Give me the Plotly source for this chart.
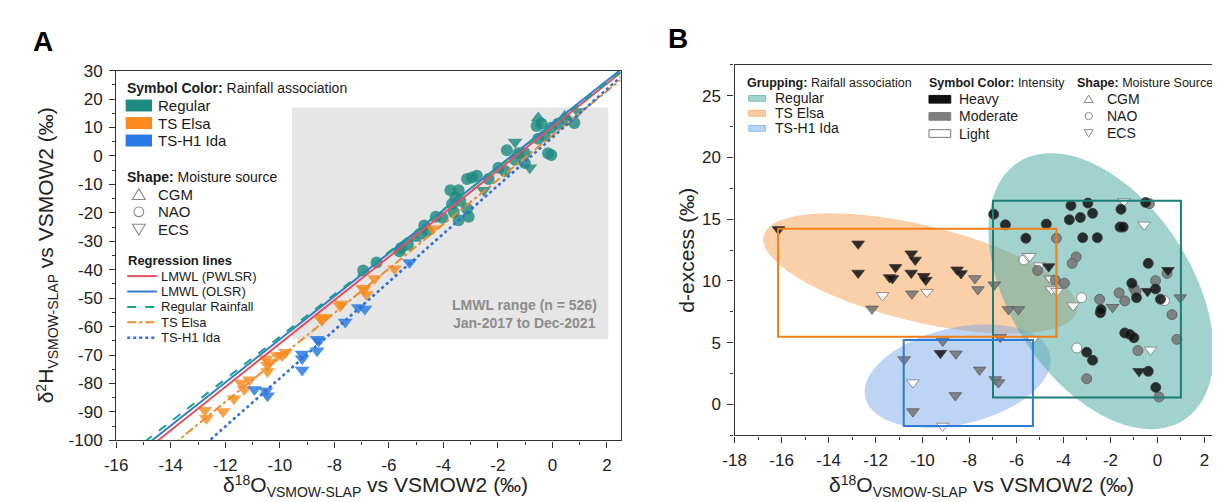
import numpy as np
import plotly.graph_objects as go

W, H = 1220, 502
FONT = "Liberation Sans, Arial, Helvetica, sans-serif"

# ---------------- Panel A data (d2H vs d18O) ----------------
A_reg_x = [-0.52, -0.58, -0.40, 0.45, 0.51, 0.93, 0.81, -0.04, 0.20, -0.28, -0.52, -0.16, -0.04,
           -1.37, -1.67, -1.25, -1.01, -1.37, -1.01, -0.83, -1.74, -1.98, -2.34, -2.52, -2.95,
           -2.77, -3.13, -3.44, -3.56, -3.74, -3.38, -3.68, -3.13, -3.07, -3.44, -4.03, -3.62,
           -4.28, -4.70, -4.58, -4.82, -5.06, -5.55, -5.61, -5.30, -6.45, -6.94]
A_reg_y = [13.3, 10.5, 11.3, 13.9, 12.7, 15.6, 11.6, 9.9, 11.3, 7.1, 6.0, 0.9, 0.3,
           4.9, 2.0, 0.9, 0.9, -1.35, -2.5, -4.2, -5.3, -4.2, -8.1, -12.1, -7.6,
           -7.0, -8.1, -12.1, -14.6, -12.1, -15.8, -16.9, -18.6, -21.4, -22.6, -21.7, -19.7,
           -21.4, -24.5, -26.2, -27.4, -29.0, -32.4, -33.5, -31.2, -37.5, -40.3]
A_reg_src = ["CGM", "NAO", "NAO", "CGM", "NAO", "ECS", "NAO", "NAO", "NAO", "NAO", "NAO", "NAO", "NAO",
             "ECS", "NAO", "NAO", "NAO", "NAO", "NAO", "ECS", "NAO", "NAO", "NAO", "ECS", "NAO",
             "NAO", "NAO", "NAO", "NAO", "NAO", "NAO", "NAO", "NAO", "NAO", "NAO", "NAO", "NAO",
             "NAO", "NAO", "NAO", "NAO", "CGM", "NAO", "NAO", "NAO", "NAO", "NAO"]

A_elsa_x = [-12.75, -12.69, -12.08, -11.68, -11.42, -11.30, -11.11, -10.51, -10.45, -10.45, -10.39,
            -10.09, -9.91, -9.79, -8.51, -8.45, -8.39, -7.79, -7.73, -6.92, -6.82, -6.94, -6.52,
            -5.79, -4.39]
A_elsa_y = [-89.4, -92.2, -89.9, -85.4, -79.8, -82.1, -78.7, -71.3, -73.6, -75.8, -72.5,
            -70.2, -70.2, -69.0, -57.2, -57.8, -56.7, -52.7, -52.1, -47.0, -48.7, -46.5, -43.1,
            -39.7, -25.6]

A_ida_x = [-5.24, -6.88, -7.12, -7.60, -8.63, -8.57, -8.63, -9.18, -9.18, -9.18, -10.93, -10.51, -10.45]
A_ida_y = [-37.5, -53.8, -53.3, -58.4, -64.5, -65.1, -68.5, -69.6, -71.3, -75.3, -82.1, -82.6, -84.3]

# Regression lines: d2H = slope * d18O + intercept
REG_NAMES = ["LMWL (PWLSR)", "LMWL (OLSR)", "Regular Rainfall", "TS Elsa", "TS-H1 Ida"]
REG_SLOPE = [7.62, 7.58, 7.45, 7.81, 8.47]
REG_INTERCEPT = [10.2, 11.3, 10.9, 7.2, 6.5]
REG_COLORS = ["#e5525c", "#2f7fcf", "#1ba08e", "#f28a26", "#2f6fdc"]
REG_DASH = ["solid", "solid", "dash", "dashdot", "dot"]
REG_WIDTH = [2, 2, 2, 2, 2.6]

# LMWL range box (long-term record)
LMWL_BOX_X = [-9.55, 2.05]
LMWL_BOX_Y = [-64.5, 17.0]

A_XRANGE = [-16, 2.5]
A_YRANGE = [-100, 30]
A_XTICKS = [-16, -14, -12, -10, -8, -6, -4, -2, 0, 2]
A_XTICKTEXT = ["-16", "-14", "-12", "-10", "-8", "-6", "-4", "-2", "0", "2"]
A_YTICKS = [30, 20, 10, 0, -10, -20, -30, -40, -50, -60, -70, -80, -90, -100]
A_YTICKTEXT = ["30", "20", "10", "0", "-10", "-20", "-30", "-40", "-50", "-60", "-70", "-80", "-90", "-100"]

# ---------------- Panel B data (d-excess vs d18O) ----------------
B_x = [-16.13, -12.74, -12.74, -12.15, -11.70, -11.40, -11.15, -11.28, -10.48, -10.31, -10.48, -10.45,
       -9.95, -9.86, -9.81, -8.53, -8.36, -7.77, -7.64, -6.94, -6.34, -5.92, -6.69,
       -9.14, -9.24, -8.58, -10.78, -10.41, -7.57, -6.90, -6.77, -8.60, -10.41, -9.14, -5.31,
       -6.97, -6.47, -5.60, -4.73, -4.30, -3.68, -2.96, -3.75, -3.28, -2.76, -3.18, -2.56,
       -1.55, -1.59, -1.46, -1.42, -0.50, -0.34, -0.56, -3.46, -3.63, -5.50, -5.68, -5.43,
       -5.01, -4.63, -5.10, -4.58, -4.51, -4.52, -4.27, -4.35, -3.96, -3.23, -3.59, -2.46,
       -2.43, -2.40, -1.91, -1.63, -1.39, -1.00, -1.09, -0.92, -0.89, -0.39, -0.42, -0.08,
       0.13, 0.30, -0.08, 0.45, 0.41, 0.62, 0.97, 0.83, -3.43, -3.01, -2.76, -3.01,
       -1.39, -1.17, -1.00, -0.83, -0.78, -0.39, -0.29, -0.07, 0.07]
B_d = [14.17, 13.00, 10.64, 7.74, 8.83, 10.28, 11.10, 10.20, 12.20, 11.70, 10.64, 8.96,
       10.38, 10.07, 9.09, 10.90, 10.60, 10.20, 9.30, 9.69, 7.69, 7.69, 5.45,
       5.14, 4.15, 4.10, 3.63, 1.77, 2.80, 2.02, 1.77, 0.73, -0.57, -1.74, 5.27,
       15.40, 14.54, 13.45, 14.60, 13.45, 16.10, 16.30, 14.95, 15.13, 15.47, 13.50, 13.50,
       15.80, 14.36, 14.36, 16.43, 16.35, 16.25, 14.54, 11.94, 11.42, 12.00, 11.70, 12.00,
       11.24, 11.16, 10.85, 10.20, 9.30, 10.12, 9.16, 10.07, 9.81, 8.64, 8.00, 8.51,
       7.42, 7.68, 7.87, 9.03, 8.38, 9.42, 9.81, 9.16, 8.64, 11.42, 9.16, 9.35,
       8.52, 8.40, 10.02, 10.86, 10.60, 7.27, 8.65, 5.27, 4.57, 4.23, 3.58, 2.08,
       5.79, 5.66, 5.40, 4.36, 2.68, 2.68, 4.42, 1.38, 0.60]
B_int = ["H", "H", "H", "M", "L", "H", "H", "H", "H", "H", "H", "M",
         "H", "H", "L", "H", "H", "M", "M", "M", "M", "M", "M",
         "M", "H", "M", "M", "L", "M", "M", "M", "M", "M", "L", "L",
         "H", "H", "H", "H", "M", "H", "H", "H", "H", "H", "H", "H",
         "H", "H", "H", "L", "H", "M", "L", "M", "M", "L", "L", "L",
         "L", "H", "M", "L", "L", "L", "L", "M", "M", "L", "L", "M",
         "H", "H", "M", "M", "M", "M", "H", "M", "H", "H", "H", "H",
         "H", "L", "M", "H", "M", "M", "M", "M", "L", "H", "H", "M",
         "H", "H", "H", "M", "H", "H", "L", "H", "M"]
B_src = ["ECS"] * 35 + [
         "NAO", "NAO", "NAO", "NAO", "NAO", "NAO", "NAO", "NAO", "NAO", "NAO", "NAO", "NAO",
         "NAO", "NAO", "NAO", "ECS", "NAO", "NAO", "ECS", "NAO", "NAO", "ECS", "NAO", "ECS",
         "ECS", "ECS", "NAO", "ECS", "ECS", "ECS", "ECS", "NAO", "NAO", "NAO", "ECS", "NAO",
         "NAO", "NAO", "ECS", "NAO", "NAO", "NAO", "NAO", "NAO", "NAO", "NAO", "ECS", "NAO",
         "NAO", "NAO", "NAO", "ECS", "NAO", "NAO", "ECS", "NAO", "NAO", "NAO", "NAO", "NAO",
         "NAO", "NAO", "NAO", "NAO", "ECS", "NAO", "ECS", "NAO", "NAO"]

# Group ranges (boxes)
BOX_GROUPS = ["Regular", "TS Elsa", "TS-H1 Ida"]
BOX_X0 = [-7.0, -16.15, -10.8]
BOX_X1 = [1.0, -4.3, -5.3]
BOX_Y0 = [0.57, 5.48, -1.74]
BOX_Y1 = [16.48, 14.23, 5.22]
BOX_COLORS = ["#1c7d75", "#ef7f18", "#2d7bd6"]

# Group ellipses: centre (data), semi-axes (px), rotation (deg)
ELL_CX = [-10.1, -8.5, -2.4]
ELL_CY = [10.6, 2.3, 9.17]
ELL_A = [163, 96, 157.9]
ELL_B = [50, 50, 92.6]
ELL_TH = [-14, 13.8, 121.1]
ELL_COLORS = ["rgba(247,160,80,0.50)", "rgba(120,165,232,0.48)", "rgba(88,175,166,0.56)"]

B_XRANGE = [-18, 2.95]
B_YRANGE = [-2.5, 27.5]
B_XTICKS = [-18, -16, -14, -12, -10, -8, -6, -4, -2, 0, 2]
B_XTICKTEXT = ["-18", "-16", "-14", "-12", "-10", "-8", "-6", "-4", "-2", "0", "2"]
B_YTICKS = [0, 5, 10, 15, 20, 25]
B_YTICKTEXT = ["0", "5", "10", "15", "20", "25"]

# ---------------- layout geometry (pixels) ----------------
A_L, A_R, A_T, A_B = 97.2, 606.5, 55.7, 440.0
B_L, B_R, B_T, B_B = 721.7, 1218.7, 49.6, 434.8


def px(x):
    return x / W


def py(y):
    return 1 - y / H


SYM = {"CGM": "triangle-up", "NAO": "circle", "ECS": "triangle-down"}

fig = go.Figure()

# Panel A markers
for src in ["NAO", "CGM", "ECS"]:
    idx = [i for i, s in enumerate(A_reg_src) if s == src]
    fig.add_trace(go.Scatter(
        x=[A_reg_x[i] for i in idx], y=[A_reg_y[i] for i in idx], mode="markers",
        marker=dict(symbol=SYM[src], size=12 if src == "NAO" else 13, color="rgba(31,138,128,0.82)",
                    line=dict(width=0)),
        xaxis="x", yaxis="y", showlegend=False, hoverinfo="skip"))
fig.add_trace(go.Scatter(x=A_elsa_x, y=A_elsa_y, mode="markers",
                         marker=dict(symbol="triangle-down", size=13, color="rgba(247,140,30,0.82)", line=dict(width=0)),
                         xaxis="x", yaxis="y", showlegend=False, hoverinfo="skip"))
fig.add_trace(go.Scatter(x=A_ida_x, y=A_ida_y, mode="markers",
                         marker=dict(symbol="triangle-down", size=13, color="rgba(45,125,225,0.85)", line=dict(width=0)),
                         xaxis="x", yaxis="y", showlegend=False, hoverinfo="skip"))

# Regression lines
for name, m, c, col, dash, w in zip(REG_NAMES, REG_SLOPE, REG_INTERCEPT, REG_COLORS, REG_DASH, REG_WIDTH):
    xs = np.array(A_XRANGE, dtype=float)
    fig.add_trace(go.Scatter(x=xs, y=m * xs + c, mode="lines", name=name,
                             line=dict(color=col, width=w, dash=dash),
                             xaxis="x", yaxis="y", showlegend=False, hoverinfo="skip"))

# Panel B markers
INT_FILL = {"H": "rgba(15,15,15,0.85)", "M": "rgba(120,120,120,0.88)", "L": "rgba(255,255,255,0.95)"}
INT_LINE = {"H": "#3a3a3a", "M": "#5a5a5a", "L": "#7a7a7a"}
for inten in ["L", "M", "H"]:
    for src in ["NAO", "ECS", "CGM"]:
        idx = [i for i in range(len(B_x)) if B_int[i] == inten and B_src[i] == src]
        if not idx:
            continue
        fig.add_trace(go.Scatter(
            x=[B_x[i] for i in idx], y=[B_d[i] for i in idx], mode="markers",
            marker=dict(symbol=SYM[src], size=10 if src == "NAO" else 11, color=INT_FILL[inten],
                        line=dict(color=INT_LINE[inten], width=0.8)),
            xaxis="x2", yaxis="y2", showlegend=False, hoverinfo="skip"))

shapes = []
annotations = []

# LMWL grey box
shapes.append(dict(type="rect", xref="x", yref="y", x0=LMWL_BOX_X[0], x1=LMWL_BOX_X[1],
                   y0=LMWL_BOX_Y[0], y1=LMWL_BOX_Y[1], fillcolor="#e6e6e6", line=dict(width=0), layer="below"))

# Ellipses in panel B
wx = (B_R - B_L) / (B_XRANGE[1] - B_XRANGE[0])
wy = (B_B - B_T) / (B_YRANGE[1] - B_YRANGE[0])
t = np.linspace(0, 2 * np.pi, 160)
for cx, cy, a, b, th, col in zip(ELL_CX, ELL_CY, ELL_A, ELL_B, ELL_TH, ELL_COLORS):
    r = np.radians(th)
    dx = a * np.cos(t) * np.cos(r) - b * np.sin(t) * np.sin(r)
    dy = a * np.cos(t) * np.sin(r) + b * np.sin(t) * np.cos(r)
    xs = cx + dx / wx
    ys = cy + dy / wy
    path = "M " + " L ".join(f"{x:.4f},{y:.4f}" for x, y in zip(xs, ys)) + " Z"
    shapes.append(dict(type="path", xref="x2", yref="y2", path=path, fillcolor=col,
                       line=dict(width=0), layer="below"))

# Group boxes in panel B
for x0, x1, y0, y1, col in zip(BOX_X0, BOX_X1, BOX_Y0, BOX_Y1, BOX_COLORS):
    shapes.append(dict(type="rect", xref="x2", yref="y2", x0=x0, x1=x1, y0=y0, y1=y1,
                       fillcolor="rgba(0,0,0,0)", line=dict(color=col, width=2), layer="above"))


def text(x, y, s, size=14, color="#1a1a1a", anchor="left", angle=0, bold=False):
    if bold:
        s = f"<b>{s}</b>"
    annotations.append(dict(x=px(x), y=py(y), xref="paper", yref="paper", text=s, showarrow=False,
                            xanchor=anchor, yanchor="middle", textangle=angle,
                            font=dict(family=FONT, size=size, color=color)))


def rect_px(x0, y0, x1, y1, fill, line_col=None, lw=0):
    shapes.append(dict(type="rect", xref="paper", yref="paper", x0=px(x0), x1=px(x1), y0=py(y1), y1=py(y0),
                       fillcolor=fill, line=dict(color=line_col or fill, width=lw)))


def symbol_px(kind, cx, cy, s, col="#8a8a8a", lw=1.1):
    if kind == "NAO":
        shapes.append(dict(type="circle", xref="paper", yref="paper", x0=px(cx - s / 2), x1=px(cx + s / 2),
                           y0=py(cy + s / 2), y1=py(cy - s / 2), line=dict(color=col, width=lw),
                           fillcolor="rgba(0,0,0,0)"))
    else:
        h = s * 0.87
        if kind == "CGM":
            pts = [(cx, cy - h / 2), (cx + s / 2, cy + h / 2), (cx - s / 2, cy + h / 2)]
        else:
            pts = [(cx, cy + h / 2), (cx + s / 2, cy - h / 2), (cx - s / 2, cy - h / 2)]
        path = "M " + " L ".join(f"{px(a):.5f},{py(b):.5f}" for a, b in pts) + " Z"
        shapes.append(dict(type="path", xref="paper", yref="paper", path=path,
                           line=dict(color=col, width=lw), fillcolor="rgba(0,0,0,0)"))


def line_px(x0, x1, y, col, dash, w):
    shapes.append(dict(type="line", xref="paper", yref="paper", x0=px(x0), x1=px(x1), y0=py(y), y1=py(y),
                       line=dict(color=col, width=w, dash=dash)))


def sup(s):
    return f"<span style='font-size:14px;baseline-shift:7px'>{s}</span>"


def sub(s):
    return f"<span style='font-size:14px;baseline-shift:-5px'>{s}</span>"


# Panel letters
text(23, 25, "A", size=28, color="#000", anchor="center", bold=True)
text(665, 22, "B", size=28, color="#000", anchor="center", bold=True)

# Axis titles
X_TITLE = "δ" + sup("18") + "O" + sub("VSMOW-SLAP") + " vs VSMOW2 (‰)"
Y_TITLE_A = "δ" + sup("2") + "H" + sub("VSMOW-SLAP") + " vs VSMOW2 (‰)"
text(359, 487, X_TITLE, size=21, color="#222", anchor="center")
text(27, 248, Y_TITLE_A, size=21, color="#222", anchor="center", angle=-90)
text(971, 487, X_TITLE, size=21, color="#222", anchor="center")
text(673, 242.5, "d-excess (‰)", size=21, color="#222", anchor="center", angle=-90)

# LMWL range note
text(509.5, 299.3, "LMWL range (n = 526)", size=14, color="#8c8c8c", anchor="center", bold=True)
text(509.5, 318.3, "Jan-2017 to Dec-2021", size=14, color="#8c8c8c", anchor="center", bold=True)

# ---- Legend, panel A ----
text(106, 73.3, "<b>Symbol Color:</b> Rainfall association", size=14)
LEG_A_GROUPS = ["Regular", "TS Elsa", "TS-H1 Ida"]
LEG_A_COLS = ["#1f8a80", "#fb8a1e", "#2a79e4"]
for i, (lab, col) in enumerate(zip(LEG_A_GROUPS, LEG_A_COLS)):
    cy = 92 + i * 18.2
    rect_px(106.7, cy - 6.2, 133.3, cy + 6.2, col)
    text(137.5, cy, lab, size=15)
text(106, 166, "<b>Shape:</b> Moisture source", size=14)
for i, src in enumerate(["CGM", "NAO", "ECS"]):
    cy = 184 + i * 18.5
    symbol_px(src, 120, cy, 13 if src != "NAO" else 10)
    text(137.5, cy, src, size=15)
text(107, 253.3, "Regression lines", size=13, bold=True)
for i, (name, col, dash, w) in enumerate(zip(REG_NAMES, REG_COLORS, REG_DASH, REG_WIDTH)):
    cy = 269.3 + i * 16.0
    line_px(108.3, 138.3, cy, col, dash, w)
    text(140, cy, name, size=13)

# ---- Legend, panel B ----
text(732, 68.3, "<b>Grupping:</b> Raifall association", size=12.5)
text(916, 68.3, "<b>Symbol Color:</b> Intensity", size=12.5)
text(1065, 68.3, "<b>Shape:</b> Moisture Source", size=12.5)
LEG_B_FILL = ["#a3d3ce", "#fccba3", "#bcd3f4"]
LEG_B_EDGE = ["#79bdb4", "#f5b47f", "#95b9ec"]
for i, (lab, f, e) in enumerate(zip(BOX_GROUPS, LEG_B_FILL, LEG_B_EDGE)):
    cy = 84.5 + i * 15.6
    rect_px(736, cy - 3, 753, cy + 3, f, e, 1)
    text(760, cy, lab, size=14)
LEG_INT = ["Heavy", "Moderate", "Light"]
LEG_INT_FILL = ["#111111", "#7f7f7f", "#ffffff"]
LEG_INT_EDGE = ["#111111", "#7f7f7f", "#777777"]
for i, (lab, f, e) in enumerate(zip(LEG_INT, LEG_INT_FILL, LEG_INT_EDGE)):
    cy = 85.5 + i * 17.8
    rect_px(918, cy - 4, 940, cy + 4, f, e, 1)
    text(946, cy, lab, size=14)
for i, src in enumerate(["CGM", "NAO", "ECS"]):
    cy = 85 + i * 18
    symbol_px(src, 1079.3, cy, 9 if src != "NAO" else 7.5, lw=1)
    text(1096, cy, src, size=14)

axis_common = dict(showline=True, linecolor="#333", linewidth=1.4, mirror=True, ticks="outside",
                   ticklen=6, tickwidth=1.3, tickcolor="#333", showgrid=False, zeroline=False,
                   tickfont=dict(family=FONT, size=17, color="#222"), tickmode="array",
                   ticklabelstandoff=3)

fig.update_layout(
    width=W, height=H, autosize=False,
    margin=dict(l=0, r=0, t=0, b=0),
    paper_bgcolor="white", plot_bgcolor="white",
    font=dict(family=FONT),
    showlegend=False,
    xaxis=dict(domain=[px(A_L), px(A_R)], range=A_XRANGE, anchor="y", tickvals=A_XTICKS, ticktext=A_XTICKTEXT,
               minor=dict(tick0=0, dtick=1, ticks="outside", ticklen=3, tickcolor="#333"), **axis_common),
    yaxis=dict(domain=[py(A_B), py(A_T)], range=A_YRANGE, anchor="x", tickvals=A_YTICKS, ticktext=A_YTICKTEXT,
               minor=dict(tick0=0, dtick=5, ticks="outside", ticklen=3, tickcolor="#333"), **axis_common),
    xaxis2=dict(domain=[px(B_L), px(B_R)], range=B_XRANGE, anchor="y2", tickvals=B_XTICKS, ticktext=B_XTICKTEXT,
                minor=dict(tick0=0, dtick=1, ticks="outside", ticklen=3, tickcolor="#333"), **axis_common),
    yaxis2=dict(domain=[py(B_B), py(B_T)], range=B_YRANGE, anchor="x2", tickvals=B_YTICKS, ticktext=B_YTICKTEXT,
                minor=dict(tick0=0, dtick=2.5, ticks="outside", ticklen=3, tickcolor="#333"), **axis_common),
    shapes=shapes,
    annotations=annotations,
)

fig.write_html("out.html", config={"displayModeBar": False})
